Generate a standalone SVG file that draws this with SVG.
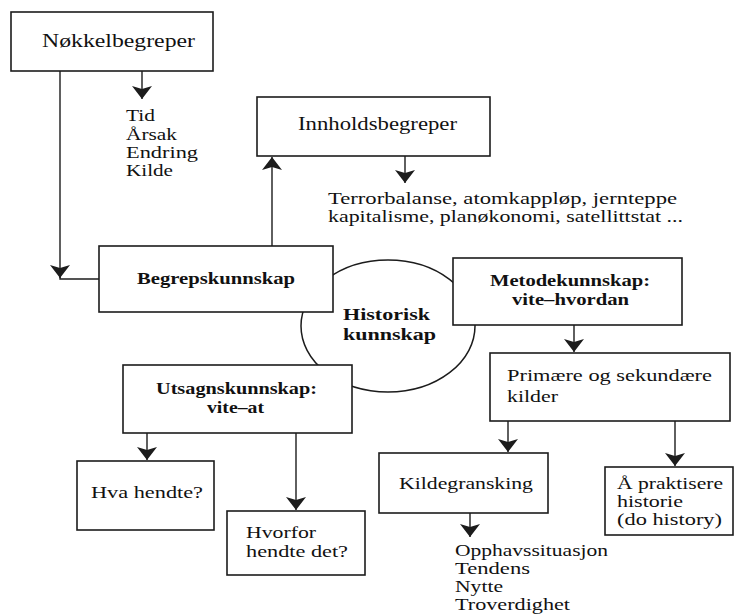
<svg xmlns="http://www.w3.org/2000/svg" width="735" height="616" viewBox="0 0 735 616">
<defs>
<style>
.box{fill:#fff;stroke:#1c1c1c;stroke-width:1.6}
.circ{fill:#fff;stroke:#1c1c1c;stroke-width:1.5}
.ln{fill:none;stroke:#1c1c1c;stroke-width:1.4}
.arr{marker-end:url(#ah)}
text{font-family:"Liberation Serif","Times New Roman",serif;font-size:17px;fill:#111}
.t18{font-size:18px}
.b{font-weight:bold}
</style>
<marker id="ah" viewBox="0 0 16 24" markerUnits="userSpaceOnUse" markerWidth="16" markerHeight="24" refX="14" refY="12" orient="auto">
<path d="M14,12 L1,2 L4,12 L1,22 Z" fill="#1c1c1c"/>
</marker>
</defs>
<rect width="735" height="616" fill="#fff"/>

<g id="historisk">
<ellipse class="circ" cx="388" cy="326" rx="87" ry="66"/>
<text class="b" x="343" y="320" textLength="87" lengthAdjust="spacingAndGlyphs">Historisk</text>
<text class="b" x="343" y="340" textLength="93" lengthAdjust="spacingAndGlyphs">kunnskap</text>
</g>

<g id="connectors">
<path class="ln arr" d="M142,71 V99"/>
<path class="ln arr" d="M60,71 V278"/>
<path class="ln" d="M60,277 V279 H99"/>
<path class="ln arr" d="M272,246 V157"/>
<path class="ln arr" d="M405,156 V183"/>
<path class="ln arr" d="M574,325 V352"/>
<path class="ln arr" d="M508,421 V452"/>
<path class="ln arr" d="M675,421 V466"/>
<path class="ln arr" d="M470,513 V537"/>
<path class="ln arr" d="M147,433 V460"/>
<path class="ln arr" d="M296,433 V510"/>
</g>

<g id="nokkelbegreper">
<rect class="box" x="11" y="12" width="202" height="59"/>
<text class="t18" x="42" y="47" textLength="153" lengthAdjust="spacingAndGlyphs">Nøkkelbegreper</text>
</g>

<g id="nokkel-liste">
<text x="126" y="121" textLength="29" lengthAdjust="spacingAndGlyphs">Tid</text>
<text x="126" y="140" textLength="51" lengthAdjust="spacingAndGlyphs">Årsak</text>
<text x="126" y="158" textLength="72" lengthAdjust="spacingAndGlyphs">Endring</text>
<text x="126" y="176" textLength="47" lengthAdjust="spacingAndGlyphs">Kilde</text>
</g>

<g id="innholdsbegreper">
<rect class="box" x="257" y="97" width="233" height="59"/>
<text class="t18" x="298" y="130" textLength="159" lengthAdjust="spacingAndGlyphs">Innholdsbegreper</text>
</g>

<g id="innhold-liste">
<text x="328" y="204" textLength="349" lengthAdjust="spacingAndGlyphs">Terrorbalanse, atomkappløp, jernteppe</text>
<text x="328" y="222" textLength="355" lengthAdjust="spacingAndGlyphs">kapitalisme, planøkonomi, satellittstat ...</text>
</g>

<g id="begrepskunnskap">
<rect class="box" x="99" y="246" width="234" height="66"/>
<text class="b" x="137" y="284" textLength="158" lengthAdjust="spacingAndGlyphs">Begrepskunnskap</text>
</g>

<g id="metodekunnskap">
<rect class="box" x="453" y="258" width="229" height="67"/>
<text class="b" x="490" y="286" textLength="160" lengthAdjust="spacingAndGlyphs">Metodekunnskap:</text>
<text class="b" x="512" y="305" textLength="117" lengthAdjust="spacingAndGlyphs">vite–hvordan</text>
</g>

<g id="primaere">
<rect class="box" x="490" y="353" width="240" height="68"/>
<text x="507" y="381" textLength="205" lengthAdjust="spacingAndGlyphs">Primære og sekundære</text>
<text x="507" y="402" textLength="51" lengthAdjust="spacingAndGlyphs">kilder</text>
</g>

<g id="utsagnskunnskap">
<rect class="box" x="123" y="365" width="229" height="68"/>
<text class="b" x="156" y="394" textLength="161" lengthAdjust="spacingAndGlyphs">Utsagnskunnskap:</text>
<text class="b" x="207" y="413" textLength="57" lengthAdjust="spacingAndGlyphs">vite–at</text>
</g>

<g id="hva-hendte">
<rect class="box" x="77" y="461" width="137" height="69"/>
<text x="91" y="498" textLength="112" lengthAdjust="spacingAndGlyphs">Hva hendte?</text>
</g>

<g id="hvorfor">
<rect class="box" x="227" y="511" width="138" height="64"/>
<text x="246" y="538" textLength="70" lengthAdjust="spacingAndGlyphs">Hvorfor</text>
<text x="246" y="557" textLength="102" lengthAdjust="spacingAndGlyphs">hendte det?</text>
</g>

<g id="kildegransking">
<rect class="box" x="379" y="453" width="169" height="60"/>
<text x="399" y="489" textLength="134" lengthAdjust="spacingAndGlyphs">Kildegransking</text>
</g>

<g id="kilde-liste">
<text x="455" y="556" textLength="153" lengthAdjust="spacingAndGlyphs">Opphavssituasjon</text>
<text x="455" y="574" textLength="75" lengthAdjust="spacingAndGlyphs">Tendens</text>
<text x="455" y="592" textLength="48" lengthAdjust="spacingAndGlyphs">Nytte</text>
<text x="455" y="610" textLength="115" lengthAdjust="spacingAndGlyphs">Troverdighet</text>
</g>

<g id="praktisere">
<rect class="box" x="605" y="467" width="128" height="68"/>
<text x="617" y="489" textLength="106" lengthAdjust="spacingAndGlyphs">Å praktisere</text>
<text x="617" y="507" textLength="66" lengthAdjust="spacingAndGlyphs">historie</text>
<text x="617" y="525" textLength="105" lengthAdjust="spacingAndGlyphs">(do history)</text>
</g>
</svg>
